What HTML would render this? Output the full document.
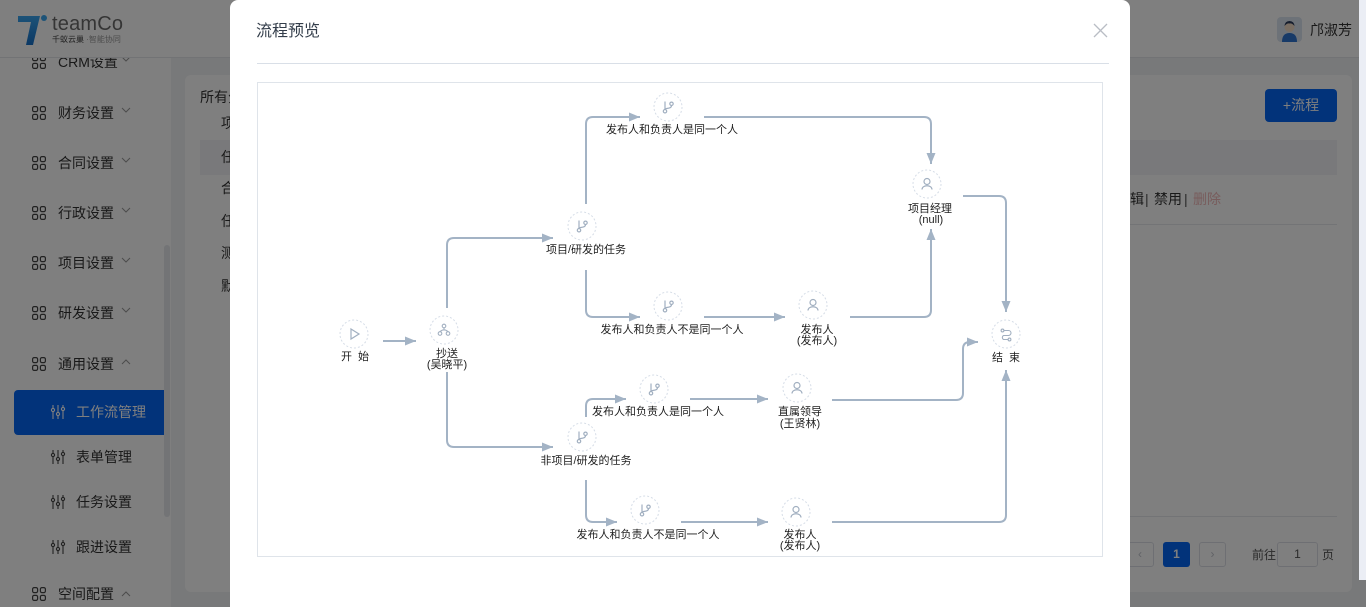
<!DOCTYPE html>
<html><head><meta charset="utf-8">
<style>
*{margin:0;padding:0;box-sizing:border-box}
html,body{width:1366px;height:607px;overflow:hidden}
body{position:relative;background:#f0f2f5;font-family:"Liberation Sans","Noto Sans CJK SC",sans-serif;color:#333}
.abs{position:absolute}
.hdr{left:0;top:0;width:1366px;height:58px;background:#fff;border-bottom:1px solid #e4e6ea;z-index:3}
.side{left:0;top:58px;width:171px;height:549px;background:#fff;z-index:1}
.mi{position:absolute;left:0;height:20px;line-height:20px;font-size:14px;color:#333;z-index:2;white-space:nowrap}
.card{left:185px;top:75px;width:1167px;height:517px;background:#fff;border-radius:6px;z-index:1}
.t14{font-size:14px;line-height:20px;height:20px;white-space:nowrap;z-index:2}
.ov{left:0;top:0;width:1366px;height:607px;background:rgba(0,0,0,0.5);z-index:5}
.modal{left:230px;top:0;width:900px;height:607px;background:#fff;border-radius:8px 8px 0 0;z-index:10}
</style></head><body>

<!-- header -->
<div class="abs hdr">
  <svg class="abs" style="left:14px;top:12px" width="40" height="36" viewBox="0 0 40 36">
    <defs><linearGradient id="lg" x1="0" y1="0" x2="0" y2="1"><stop offset="0" stop-color="#3aa6f0"/><stop offset="1" stop-color="#1670c8"/></linearGradient></defs>
    <path d="M4,4 H26 L19,33 H12 L17,10 H4 Z" fill="url(#lg)"/>
    <circle cx="30" cy="6" r="3" fill="#3aa6f0"/>
  </svg>
  <div class="abs" style="left:52px;top:12px;font-size:20px;line-height:24px;color:#6a6a6a;letter-spacing:0.2px">teamCo</div>
  <div class="abs" style="left:52px;top:35px;font-size:8px;line-height:10px;color:#444;white-space:nowrap">千蚁云巢 <span style="color:#999">·智能协同</span></div>
  <div class="abs" style="left:1277px;top:17px;width:25px;height:25px;border-radius:4px;background:#dbe4f0">
    <svg width="25" height="25" viewBox="0 0 25 25"><circle cx="12.5" cy="10" r="5" fill="#f3dcc6"/><path d="M7.5,9 Q8,4 12.5,4 Q17,4 17.5,9 Q15,6 12.5,6.5 Q10,6 7.5,9Z" fill="#2a3a5a"/><path d="M5,25 Q5,16 12.5,16 Q20,16 20,25Z" fill="#2f74d0"/></svg>
  </div>
  <div class="abs t14" style="left:1310px;top:20px;color:#333">邝淑芳</div>
</div>

<!-- sidebar -->
<div class="abs side"></div>
<div class="abs" style="left:164px;top:245px;width:6px;height:272px;background:#e6e8ec;border-radius:3px;z-index:2"></div>
<div class="abs" style="left:14px;top:390px;width:150px;height:45px;background:#0566f5;border-radius:4px 0 0 4px;z-index:2"></div>

<div class="mi" style="top:52px;left:32px"><svg width="14" height="14" style="vertical-align:-2px" viewBox="0 0 14 14" fill="none" stroke="#444" stroke-width="1.2"><rect x="0.6" y="0.6" width="5" height="5" rx="1.5"/><rect x="8.4" y="0.6" width="5" height="5" rx="1.5"/><rect x="0.6" y="8.4" width="5" height="5" rx="1.5"/><rect x="8.4" y="8.4" width="5" height="5" rx="1.5"/></svg><span style="margin-left:12px">CRM设置</span></div>
<div class="mi" style="top:103px;left:32px"><svg width="14" height="14" style="vertical-align:-2px" viewBox="0 0 14 14" fill="none" stroke="#444" stroke-width="1.2"><rect x="0.6" y="0.6" width="5" height="5" rx="1.5"/><rect x="8.4" y="0.6" width="5" height="5" rx="1.5"/><rect x="0.6" y="8.4" width="5" height="5" rx="1.5"/><rect x="8.4" y="8.4" width="5" height="5" rx="1.5"/></svg><span style="margin-left:12px">财务设置</span></div>
<div class="mi" style="top:153px;left:32px"><svg width="14" height="14" style="vertical-align:-2px" viewBox="0 0 14 14" fill="none" stroke="#444" stroke-width="1.2"><rect x="0.6" y="0.6" width="5" height="5" rx="1.5"/><rect x="8.4" y="0.6" width="5" height="5" rx="1.5"/><rect x="0.6" y="8.4" width="5" height="5" rx="1.5"/><rect x="8.4" y="8.4" width="5" height="5" rx="1.5"/></svg><span style="margin-left:12px">合同设置</span></div>
<div class="mi" style="top:203px;left:32px"><svg width="14" height="14" style="vertical-align:-2px" viewBox="0 0 14 14" fill="none" stroke="#444" stroke-width="1.2"><rect x="0.6" y="0.6" width="5" height="5" rx="1.5"/><rect x="8.4" y="0.6" width="5" height="5" rx="1.5"/><rect x="0.6" y="8.4" width="5" height="5" rx="1.5"/><rect x="8.4" y="8.4" width="5" height="5" rx="1.5"/></svg><span style="margin-left:12px">行政设置</span></div>
<div class="mi" style="top:253px;left:32px"><svg width="14" height="14" style="vertical-align:-2px" viewBox="0 0 14 14" fill="none" stroke="#444" stroke-width="1.2"><rect x="0.6" y="0.6" width="5" height="5" rx="1.5"/><rect x="8.4" y="0.6" width="5" height="5" rx="1.5"/><rect x="0.6" y="8.4" width="5" height="5" rx="1.5"/><rect x="8.4" y="8.4" width="5" height="5" rx="1.5"/></svg><span style="margin-left:12px">项目设置</span></div>
<div class="mi" style="top:303px;left:32px"><svg width="14" height="14" style="vertical-align:-2px" viewBox="0 0 14 14" fill="none" stroke="#444" stroke-width="1.2"><rect x="0.6" y="0.6" width="5" height="5" rx="1.5"/><rect x="8.4" y="0.6" width="5" height="5" rx="1.5"/><rect x="0.6" y="8.4" width="5" height="5" rx="1.5"/><rect x="8.4" y="8.4" width="5" height="5" rx="1.5"/></svg><span style="margin-left:12px">研发设置</span></div>
<div class="mi" style="top:354px;left:32px"><svg width="14" height="14" style="vertical-align:-2px" viewBox="0 0 14 14" fill="none" stroke="#444" stroke-width="1.2"><rect x="0.6" y="0.6" width="5" height="5" rx="1.5"/><rect x="8.4" y="0.6" width="5" height="5" rx="1.5"/><rect x="0.6" y="8.4" width="5" height="5" rx="1.5"/><rect x="8.4" y="8.4" width="5" height="5" rx="1.5"/></svg><span style="margin-left:12px">通用设置</span></div>
<div class="mi" style="top:584px;left:32px"><svg width="14" height="14" style="vertical-align:-2px" viewBox="0 0 14 14" fill="none" stroke="#444" stroke-width="1.2"><rect x="0.6" y="0.6" width="5" height="5" rx="1.5"/><rect x="8.4" y="0.6" width="5" height="5" rx="1.5"/><rect x="0.6" y="8.4" width="5" height="5" rx="1.5"/><rect x="8.4" y="8.4" width="5" height="5" rx="1.5"/></svg><span style="margin-left:12px">空间配置</span></div>

<svg class="abs" style="left:0;top:0;z-index:2" width="171" height="607">
  <g fill="none" stroke="#999" stroke-width="1">
    <polyline points="122,57 126,61 130,57"/>
    <polyline points="122,108 126,112 130,108"/>
    <polyline points="122,158 126,162 130,158"/>
    <polyline points="122,208 126,212 130,208"/>
    <polyline points="122,258 126,262 130,258"/>
    <polyline points="122,308 126,312 130,308"/>
    <polyline points="122,364 126,360 130,364"/>
    <polyline points="122,596 126,592 130,596"/>
  </g>
  <g fill="none" stroke-width="1.1">
    <g stroke="#fff" transform="translate(51,405)"><path d="M2,0V14M7,0V14M12,0V14"/><circle cx="2" cy="5" r="1.6" fill="#0566f5"/><circle cx="7" cy="9" r="1.6" fill="#0566f5"/><circle cx="12" cy="4" r="1.6" fill="#0566f5"/></g>
    <g stroke="#444" transform="translate(51,450)"><path d="M2,0V14M7,0V14M12,0V14"/><circle cx="2" cy="5" r="1.6" fill="#fff"/><circle cx="7" cy="9" r="1.6" fill="#fff"/><circle cx="12" cy="4" r="1.6" fill="#fff"/></g>
    <g stroke="#444" transform="translate(51,495)"><path d="M2,0V14M7,0V14M12,0V14"/><circle cx="2" cy="5" r="1.6" fill="#fff"/><circle cx="7" cy="9" r="1.6" fill="#fff"/><circle cx="12" cy="4" r="1.6" fill="#fff"/></g>
    <g stroke="#444" transform="translate(51,540)"><path d="M2,0V14M7,0V14M12,0V14"/><circle cx="2" cy="5" r="1.6" fill="#fff"/><circle cx="7" cy="9" r="1.6" fill="#fff"/><circle cx="12" cy="4" r="1.6" fill="#fff"/></g>
  </g>
</svg>
<div class="mi" style="top:402px;left:76px;color:#fff">工作流管理</div>
<div class="mi" style="top:447px;left:76px">表单管理</div>
<div class="mi" style="top:492px;left:76px">任务设置</div>
<div class="mi" style="top:537px;left:76px">跟进设置</div>

<!-- card -->
<div class="abs card"></div>
<div class="abs" style="left:200px;top:140px;width:1137px;height:35px;background:#f2f3f6;z-index:1"></div>
<div class="abs t14" style="left:200px;top:87px">所有分类</div>
<div class="abs t14" style="left:221px;top:113px">项目</div>
<div class="abs t14" style="left:221px;top:147px">任务</div>
<div class="abs t14" style="left:221px;top:178px">合同</div>
<div class="abs t14" style="left:221px;top:211px">任务</div>
<div class="abs t14" style="left:221px;top:243px">测试</div>
<div class="abs t14" style="left:221px;top:276px">默认</div>

<div class="abs" style="left:1265px;top:89px;width:72px;height:33px;background:#0566f5;border-radius:4px;z-index:2;color:#fff;font-size:14px;line-height:33px;text-align:center">+流程</div>
<div class="abs" style="left:1130px;top:224px;width:207px;height:1px;background:#e6e8ec;z-index:2"></div>
<div class="abs t14" style="left:1116px;top:189px">编辑</div>
<div class="abs t14" style="left:1145px;top:189px;color:#555">|</div>
<div class="abs t14" style="left:1154px;top:189px">禁用</div>
<div class="abs t14" style="left:1184px;top:189px;color:#555">|</div>
<div class="abs t14" style="left:1193px;top:189px;color:#f0b8b8">删除</div>
<div class="abs" style="left:1130px;top:516px;width:207px;height:1px;background:#e6e8ec;z-index:2"></div>
<div class="abs" style="left:1126px;top:542px;width:28px;height:25px;border:1px solid #dcdfe6;border-radius:3px;z-index:2;color:#c0c4cc;font-size:12px;line-height:23px;text-align:center">‹</div>
<div class="abs" style="left:1163px;top:542px;width:27px;height:25px;background:#0566f5;border-radius:3px;z-index:2;color:#fff;font-size:12px;font-weight:bold;line-height:25px;text-align:center">1</div>
<div class="abs" style="left:1199px;top:542px;width:27px;height:25px;border:1px solid #dcdfe6;border-radius:3px;z-index:2;color:#c0c4cc;font-size:12px;line-height:23px;text-align:center">›</div>
<div class="abs" style="left:1252px;top:545px;font-size:12px;line-height:20px;z-index:2;color:#555">前往</div>
<div class="abs" style="left:1277px;top:542px;width:41px;height:25px;border:1px solid #dcdfe6;border-radius:3px;z-index:2;color:#555;font-size:12px;line-height:23px;text-align:center">1</div>
<div class="abs" style="left:1322px;top:545px;font-size:12px;line-height:20px;z-index:2;color:#555">页</div>

<!-- dim overlay -->
<div class="abs ov"></div>
<div class="abs" style="left:1359px;top:0;width:7px;height:580px;background:#ebeef5;z-index:6"></div>

<!-- modal -->
<div class="abs modal"></div>
<div class="abs" style="left:256px;top:21px;font-size:16px;line-height:22px;color:#333d4a;z-index:11">流程预览</div>
<div class="abs" style="left:257px;top:63px;width:852px;height:1px;background:#d9dfe7;z-index:11"></div>
<div class="abs" style="left:257px;top:82px;width:846px;height:475px;border:1px solid #dfe4ea;z-index:11"></div>

<svg class="abs" style="left:0;top:0;z-index:12" width="1366" height="607" viewBox="0 0 1366 607">
  <defs>
    <marker id="ar" markerUnits="userSpaceOnUse" markerWidth="12" markerHeight="10" refX="11" refY="4.5" orient="auto">
      <path d="M0,0 L11,4.5 L0,9 Z" fill="#a3b3c5"/>
    </marker>
    <g id="nc"><circle r="14" fill="#fff" stroke="#d6dde7" stroke-width="1" stroke-dasharray="2 2"/></g>
    <g id="ibr" fill="none" stroke="#a1afc0" stroke-width="1.2"><path d="M-3,-5.5 V2.5"/><circle cx="-3" cy="4.2" r="1.7"/><circle cx="3.5" cy="-3.2" r="1.7"/><path d="M3.5,-1.5 C3.5,2.5 -3,0.5 -3,2.5"/></g>
    <g id="ipe" fill="none" stroke="#a1afc0" stroke-width="1.2"><circle cx="0" cy="-2.5" r="3"/><path d="M-5,5.5 C-5,0.5 5,0.5 5,5.5"/></g>
  </defs>
  <g fill="none" stroke="#a3b3c5" stroke-width="2">
    <path d="M383,341 H416" marker-end="url(#ar)"/>
    <path d="M447,308 V245 Q447,238 454,238 H553" marker-end="url(#ar)"/>
    <path d="M586,270 V310 Q586,317 593,317 H640" marker-end="url(#ar)"/>
    <path d="M586,204 V124 Q586,117 593,117 H640" marker-end="url(#ar)"/>
    <path d="M704,117 H924 Q931,117 931,124 V164" marker-end="url(#ar)"/>
    <path d="M704,317 H785" marker-end="url(#ar)"/>
    <path d="M850,317 H924 Q931,317 931,310 V229" marker-end="url(#ar)"/>
    <path d="M963,196 H999 Q1006,196 1006,203 V312" marker-end="url(#ar)"/>
    <path d="M447,372 V440 Q447,447 454,447 H553" marker-end="url(#ar)"/>
    <path d="M586,417 V406 Q586,399 593,399 H626" marker-end="url(#ar)"/>
    <path d="M690,399 H768" marker-end="url(#ar)"/>
    <path d="M832,400 H956 Q963,400 963,393 V349 Q963,342 970,342 H978" marker-end="url(#ar)"/>
    <path d="M586,480 V515 Q586,522 593,522 H617" marker-end="url(#ar)"/>
    <path d="M681,522 H768" marker-end="url(#ar)"/>
    <path d="M832,522 H999 Q1006,522 1006,515 V370" marker-end="url(#ar)"/>
  </g>
  <g transform="translate(354,334)"><use href="#nc"/><path d="M-3,-5 L5,0 L-3,5 Z" fill="none" stroke="#a1afc0" stroke-width="1.2"/></g>
  <g transform="translate(444,330)"><use href="#nc"/><g fill="none" stroke="#a1afc0" stroke-width="1.1"><circle cx="0" cy="-4" r="1.8"/><circle cx="-4" cy="3.5" r="1.8"/><circle cx="4" cy="3.5" r="1.8"/><path d="M0,-2 V0 M-4,1.5 L-1.5,0 H1.5 L4,1.5"/></g></g>
  <g transform="translate(582,226)"><use href="#nc"/><use href="#ibr"/></g>
  <g transform="translate(668,107)"><use href="#nc"/><use href="#ibr"/></g>
  <g transform="translate(927,184)"><use href="#nc"/><use href="#ipe"/></g>
  <g transform="translate(668,306)"><use href="#nc"/><use href="#ibr"/></g>
  <g transform="translate(813,305)"><use href="#nc"/><use href="#ipe"/></g>
  <g transform="translate(1006,334)"><use href="#nc"/><g fill="none" stroke="#a1afc0" stroke-width="1.1"><circle cx="-3.5" cy="-3.5" r="1.4"/><path d="M-2,-3.5 H2.5 A2.5,2.5 0 0 1 2.5,1.5 H-2.5 A2.3,2.3 0 0 0 -2.5,5.5 H2"/><circle cx="3.5" cy="5.5" r="1.4"/></g></g>
  <g transform="translate(654,389)"><use href="#nc"/><use href="#ibr"/></g>
  <g transform="translate(797,388)"><use href="#nc"/><use href="#ipe"/></g>
  <g transform="translate(582,437)"><use href="#nc"/><use href="#ibr"/></g>
  <g transform="translate(645,510)"><use href="#nc"/><use href="#ibr"/></g>
  <g transform="translate(796,512)"><use href="#nc"/><use href="#ipe"/></g>
  <g font-family="Liberation Sans, Noto Sans CJK SC, sans-serif" font-size="11" fill="#1e1e1e" text-anchor="middle" dominant-baseline="central">
    <text x="355" y="357" xml:space="preserve">开  始</text>
    <text x="447" y="354">抄送</text>
    <text x="447" y="365">(吴晓平)</text>
    <text x="586" y="250">项目/研发的任务</text>
    <text x="672" y="130">发布人和负责人是同一个人</text>
    <text x="930" y="209">项目经理</text>
    <text x="931" y="220">(null)</text>
    <text x="672" y="330">发布人和负责人不是同一个人</text>
    <text x="817" y="330">发布人</text>
    <text x="817" y="341">(发布人)</text>
    <text x="1006" y="358" xml:space="preserve">结  束</text>
    <text x="658" y="412">发布人和负责人是同一个人</text>
    <text x="800" y="412">直属领导</text>
    <text x="800" y="424">(王贤林)</text>
    <text x="586" y="461">非项目/研发的任务</text>
    <text x="648" y="535">发布人和负责人不是同一个人</text>
    <text x="800" y="535">发布人</text>
    <text x="800" y="546">(发布人)</text>
  </g>
  <g stroke="#b9bdc5" stroke-width="1.3"><path d="M1094,24 L1107,37 M1107,24 L1094,37"/></g>
</svg>
</body></html>
